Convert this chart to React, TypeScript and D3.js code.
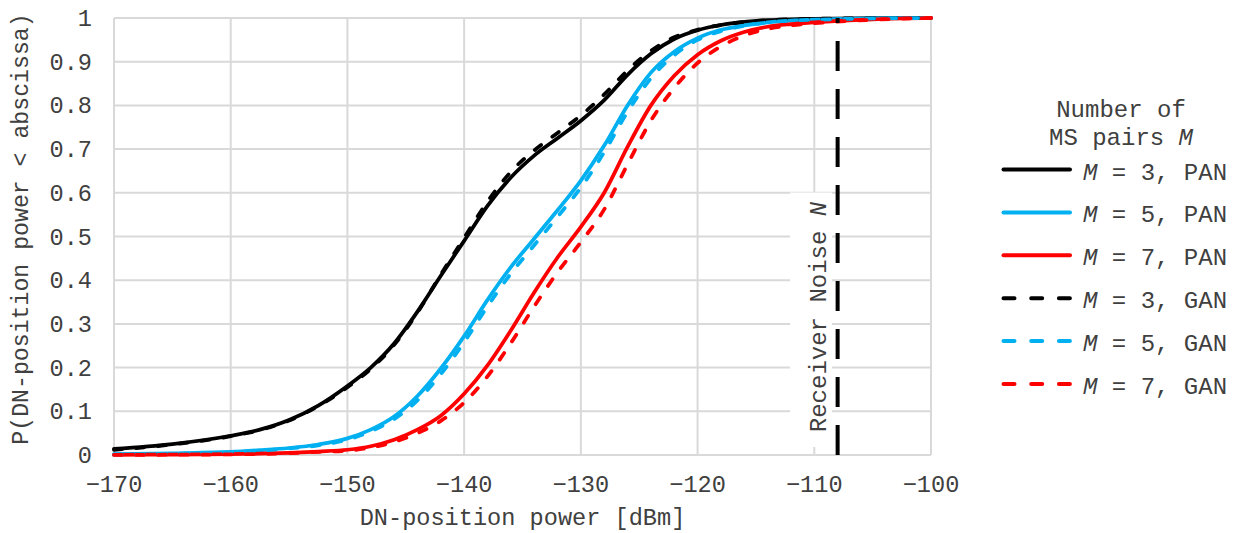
import React from 'react';
import * as d3 from 'd3';

// DN-position power (dBm) sample points
const powerDbm = [-170, -165, -160, -157.5, -155, -152.5, -150, -148, -146, -144, -142, -140, -138, -136, -134, -132, -130, -128, -126, -124, -122, -120, -118, -116, -114, -112, -110, -105, -100];

const m3Pan = [0.014, 0.025, 0.044, 0.058, 0.08, 0.113, 0.158, 0.2, 0.255, 0.328, 0.41, 0.49, 0.57, 0.635, 0.685, 0.725, 0.765, 0.812, 0.87, 0.918, 0.952, 0.972, 0.984, 0.991, 0.995, 0.997, 0.998, 0.9995, 1];
const m5Pan = [0.002, 0.004, 0.007, 0.011, 0.016, 0.024, 0.038, 0.058, 0.088, 0.135, 0.198, 0.272, 0.355, 0.43, 0.495, 0.56, 0.628, 0.708, 0.8, 0.875, 0.923, 0.954, 0.973, 0.983, 0.99, 0.994, 0.996, 0.999, 1];
const m7Pan = [0.0005, 0.001, 0.002, 0.003, 0.005, 0.008, 0.012, 0.02, 0.035, 0.058, 0.09, 0.14, 0.205, 0.285, 0.372, 0.452, 0.522, 0.6, 0.705, 0.8, 0.868, 0.916, 0.948, 0.968, 0.98, 0.986, 0.99, 0.997, 1];
const m3Gan = [0.012, 0.024, 0.043, 0.057, 0.079, 0.112, 0.155, 0.197, 0.252, 0.326, 0.413, 0.497, 0.58, 0.648, 0.697, 0.737, 0.777, 0.825, 0.88, 0.925, 0.956, 0.973, 0.984, 0.991, 0.995, 0.997, 0.998, 0.9995, 1];
const m5Gan = [0.001, 0.003, 0.006, 0.01, 0.015, 0.022, 0.035, 0.054, 0.082, 0.125, 0.185, 0.258, 0.34, 0.415, 0.48, 0.545, 0.612, 0.693, 0.785, 0.862, 0.915, 0.95, 0.97, 0.982, 0.99, 0.994, 0.996, 0.999, 1];
const m7Gan = [0.0003, 0.0007, 0.0015, 0.0025, 0.004, 0.007, 0.01, 0.017, 0.03, 0.05, 0.078, 0.12, 0.18, 0.256, 0.34, 0.418, 0.487, 0.562, 0.665, 0.765, 0.84, 0.897, 0.935, 0.96, 0.975, 0.983, 0.988, 0.996, 1];

const seriesValues = [m3Pan, m5Pan, m7Pan, m3Gan, m5Gan, m7Gan];
const seriesM = ['3', '5', '7', '3', '5', '7'];
const seriesKind = ['PAN', 'PAN', 'PAN', 'GAN', 'GAN', 'GAN'];
const seriesColors = ['#000000', '#00B0F0', '#FF0000', '#000000', '#00B0F0', '#FF0000'];
const seriesDashed = [false, false, false, true, true, true];

const xTicks = [-170, -160, -150, -140, -130, -120, -110, -100];
const yTicks = [0, 0.1, 0.2, 0.3, 0.4, 0.5, 0.6, 0.7, 0.8, 0.9, 1];
const receiverNoiseDbm = -108;

const FONT = "'Liberation Mono', 'Courier New', monospace";

export default function App() {
  const W = 1236;
  const H = 533;
  const x = d3.scaleLinear().domain([-170, -100]).range([114, 931]);
  const y = d3.scaleLinear().domain([0, 1]).range([455, 18]);
  const fmtX = d3.format('');
  const line = d3
    .line<number>()
    .x((_, i) => x(powerDbm[i]))
    .y((d) => y(d))
    .curve(d3.curveMonotoneX);

  const legendY0 = 169.5;
  const legendStep = 42.9;

  return (
    <svg
      width={W}
      height={H}
      style={{ position: 'absolute', left: 0, top: 0, background: '#fff' }}
      fontFamily={FONT}
    >
      <rect x={0} y={0} width={W} height={H} fill="#fff" />
      {/* grid */}
      {xTicks.map((t) => (
        <line key={'gx' + t} x1={x(t)} x2={x(t)} y1={y(1)} y2={y(0)} stroke="#d9d9d9" strokeWidth={2} />
      ))}
      {yTicks.map((t) => (
        <line key={'gy' + t} x1={x(-170)} x2={x(-100)} y1={y(t)} y2={y(t)} stroke="#d9d9d9" strokeWidth={2} />
      ))}
      {/* tick labels */}
      {yTicks.map((t) => (
        <text key={'ty' + t} x={92} y={y(t)} dy="0.34em" textAnchor="end" fontSize={23.6} fill="#404040">
          {String(+t.toFixed(1))}
        </text>
      ))}
      {xTicks.map((t) => (
        <text key={'tx' + t} x={x(t)} y={492} textAnchor="middle" fontSize={23.6} fill="#404040">
          {fmtX(t)}
        </text>
      ))}
      {/* axis titles */}
      <text x={(x(-170) + x(-100)) / 2} y={525} textAnchor="middle" fontSize={23.6} fill="#404040">
        DN-position power [dBm]
      </text>
      <text
        transform={`translate(28,229) rotate(-90)`}
        textAnchor="middle"
        fontSize={23.2}
        fill="#404040"
      >
        P(DN-position power &lt; abscissa)
      </text>
      {/* series */}
      {seriesValues.map((vals, i) => (
        <path
          key={'s' + i}
          d={line(vals) || ''}
          fill="none"
          stroke={seriesColors[i]}
          strokeWidth={3.75}
          strokeLinecap="round"
          strokeLinejoin="round"
          strokeDasharray={seriesDashed[i] ? '8 14' : undefined}
        />
      ))}
      {/* receiver noise label */}
      <rect x={790} y={192.5} width={42} height={254.5} fill="#fff" />
      <text
        transform={`translate(826,317) rotate(-90)`}
        textAnchor="middle"
        fontSize={24}
        fill="#404040"
      >
        Receiver Noise <tspan fontStyle="italic">N</tspan>
      </text>
      {/* receiver noise line */}
      <line
        x1={x(receiverNoiseDbm)}
        x2={x(receiverNoiseDbm)}
        y1={y(0)}
        y2={y(1)}
        stroke="#000"
        strokeWidth={4}
        strokeDasharray="30 18"
      />
      {/* legend */}
      <text x={1121} y={116.7} textAnchor="middle" fontSize={24} fill="#404040">
        Number of
      </text>
      <text x={1121} y={145} textAnchor="middle" fontSize={24} fill="#404040">
        MS pairs <tspan fontStyle="italic">M</tspan>
      </text>
      {seriesValues.map((_, i) => {
        const ly = legendY0 + i * legendStep;
        return (
          <g key={'lg' + i}>
            <line
              x1={1003.5}
              x2={1070}
              y1={ly}
              y2={ly}
              stroke={seriesColors[i]}
              strokeWidth={4}
              strokeLinecap="round"
              strokeDasharray={seriesDashed[i] ? '11 16.7' : undefined}
            />
            <text x={1083} y={ly + 10} fontSize={24} fill="#404040">
              <tspan fontStyle="italic">M</tspan> = {seriesM[i]}, {seriesKind[i]}
            </text>
          </g>
        );
      })}
    </svg>
  );
}
